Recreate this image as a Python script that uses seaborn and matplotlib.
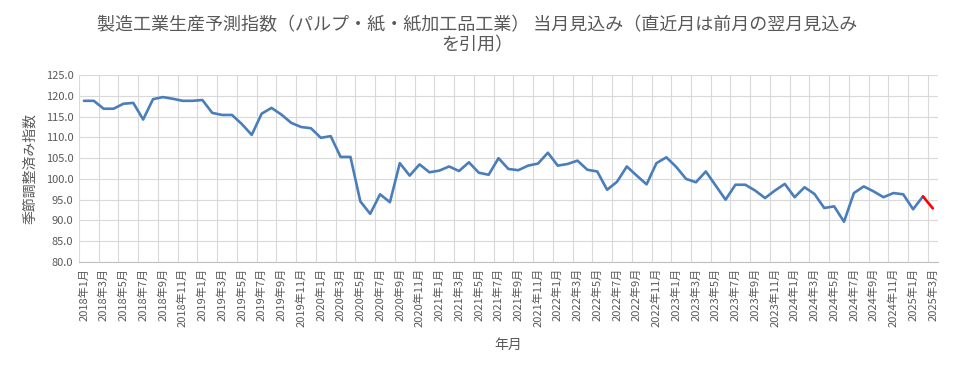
import numpy as np
import pandas as pd
import matplotlib
matplotlib.use("Agg")
import matplotlib.pyplot as plt
import seaborn as sns

# ---- data ----
years = [2018, 2019, 2020, 2021, 2022, 2023, 2024, 2025]
months = [f"{y}年{m}月" for y in years for m in range(1, 13)][:87]
values = [
    118.8, 118.8, 116.9, 116.9, 118.1, 118.3, 114.3, 119.2, 119.7, 119.3, 118.8, 118.8,
    119.0, 115.9, 115.4, 115.4, 113.2, 110.6, 115.7, 117.1, 115.5, 113.5, 112.5, 112.2,
    109.9, 110.3, 105.3, 105.3, 94.6, 91.6, 96.3, 94.4, 103.8, 100.8, 103.5, 101.6,
    102.0, 103.0, 101.9, 104.0, 101.5, 101.0, 105.0, 102.4, 102.1, 103.2, 103.7, 106.3,
    103.2, 103.6, 104.4, 102.2, 101.8, 97.4, 99.3, 103.0, 100.8, 98.7, 103.8, 105.2,
    102.9, 100.0, 99.2, 101.8, 98.4, 95.0, 98.6, 98.6, 97.2, 95.4, 97.2, 98.8,
    95.6, 98.0, 96.4, 93.0, 93.4, 89.7, 96.6, 98.2, 97.0, 95.6, 96.6, 96.3,
    92.7, 95.8, 92.9,
]
title = "製造工業生産予測指数（パルプ・紙・紙加工品工業） 当月見込み（直近月は前月の翌月見込み\nを引用）"
ylabel = "季節調整済み指数"
xlabel = "年月"
yticks = [80, 85, 90, 95, 100, 105, 110, 115, 120, 125]

# ---- plot ----
sns.set_theme(style="white")
plt.rcParams['font.family'] = ['Noto Sans CJK JP', 'DejaVu Sans']

df = pd.DataFrame({"pos": np.arange(len(values)), "month": months, "value": values})
n = len(df)

fig, ax = plt.subplots(figsize=(9.54, 3.68), dpi=100)
fig.subplots_adjust(left=0.0828, right=0.983, top=0.796, bottom=0.288)

sns.lineplot(data=df.iloc[:n - 1], x="pos", y="value", ax=ax, color="#4a7ebb", linewidth=1.9)
sns.lineplot(data=df.iloc[n - 2:], x="pos", y="value", ax=ax, color="#ff0000", linewidth=1.9)

ax.set_xlim(-0.5, n - 0.5)
ax.set_ylim(80, 125)
ax.set_yticks(yticks)
ax.set_yticklabels([f"{v:.1f}" for v in yticks], fontsize=8, color="#595959")

major = list(range(0, n, 2))
ax.set_xticks(major)
ax.set_xticklabels([months[i] for i in major], rotation=90, fontsize=8, color="#595959")
ax.set_xticks(np.arange(-0.5, n, 2), minor=True)

ax.grid(False)
ax.grid(True, axis="y", which="major", color="#d9d9d9", linewidth=0.8)
ax.grid(True, axis="x", which="minor", color="#d9d9d9", linewidth=0.8)
ax.tick_params(axis="both", which="both", length=0, pad=4)

for s in ["top", "right", "left"]:
    ax.spines[s].set_visible(False)
ax.spines["bottom"].set_color("#bfbfbf")
ax.spines["bottom"].set_linewidth(0.8)

ax.set_xlabel(xlabel, fontsize=10, color="#595959", labelpad=8)
ax.set_ylabel(ylabel, fontsize=10, color="#595959", labelpad=6)
fig.suptitle(title, fontsize=13, color="#595959", y=0.955, linespacing=1.15)

fig.savefig("out.png", dpi=100)
